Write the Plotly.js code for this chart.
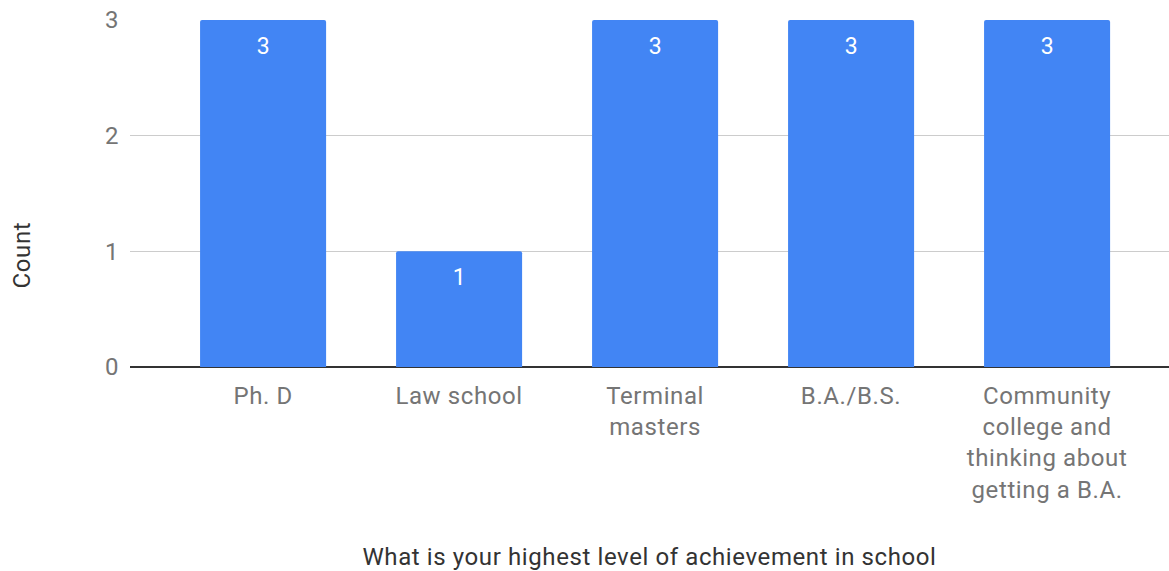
<!DOCTYPE html>
<html><head><meta charset="utf-8">
<script src="https://cdn.plot.ly/plotly-3.0.1.min.js"></script>
<style>html,body{margin:0;padding:0;background:#fff}#chart{width:1169px;height:571px}
#chart svg text{letter-spacing:0.6px}</style>
</head><body><div id="chart"></div>
<script>
const categories = ["Ph. D", "Law school", "Terminal masters", "B.A./B.S.", "Community college and thinking about getting a B.A."];
const tickLabels = ["Ph. D", "Law school", "Terminal<br>masters", "B.A./B.S.", "Community<br>college and<br>thinking about<br>getting a B.A."];
const counts = [3, 1, 3, 3, 3];
const yTicks = [0, 1, 2, 3];

const xIdx = categories.map((c, i) => i);

const trace = {
  type: 'bar', x: xIdx, y: counts, width: 0.643,
  marker: {color: '#4285F4', cornerradius: 2},
  hoverinfo: 'none'
};

const annotations = xIdx.map((x, i) => ({
  x: x, y: counts[i], xref: 'x', yref: 'y', text: String(counts[i]),
  showarrow: false, yanchor: 'middle', yshift: -26,
  font: {family: 'Roboto', size: 23, color: '#ffffff'}
}));
annotations.push({
  xref: 'paper', yref: 'paper', x: 0, y: 0.323, xshift: -108,
  text: 'Count', textangle: -90, showarrow: false,
  xanchor: 'center', yanchor: 'middle',
  font: {family: 'Roboto', size: 24, color: '#333333'}
});

const layout = {
  width: 1169, height: 571,
  margin: {l: 130, r: 0, t: 20, b: 204},
  paper_bgcolor: '#fff', plot_bgcolor: '#fff',
  showlegend: false,
  font: {family: 'Roboto', size: 24, color: '#757575'},
  xaxis: {
    range: [-0.679, 4.622], tickvals: xIdx, ticktext: tickLabels,
    showgrid: false, zeroline: false, showline: false, ticks: '',
    tickfont: {family: 'Roboto', size: 24, color: '#757575'},
    ticklabelstandoff: 12,
    title: {text: 'What is your highest level of achievement in school', font: {family: 'Roboto', size: 24, color: '#333333'}, standoff: 46}
  },
  yaxis: {
    range: [0, 3], tickvals: yTicks, ticktext: yTicks.map(String),
    showgrid: true, gridcolor: '#cccccc', gridwidth: 1,
    zeroline: true, zerolinecolor: '#333333', zerolinewidth: 2,
    showline: false, ticks: '',
    tickfont: {family: 'Roboto', size: 24, color: '#757575'},
    ticklabelstandoff: 10
  },
  annotations: annotations
};

Plotly.newPlot('chart', [trace], layout, {displayModeBar: false, staticPlot: true});
</script></body></html>
